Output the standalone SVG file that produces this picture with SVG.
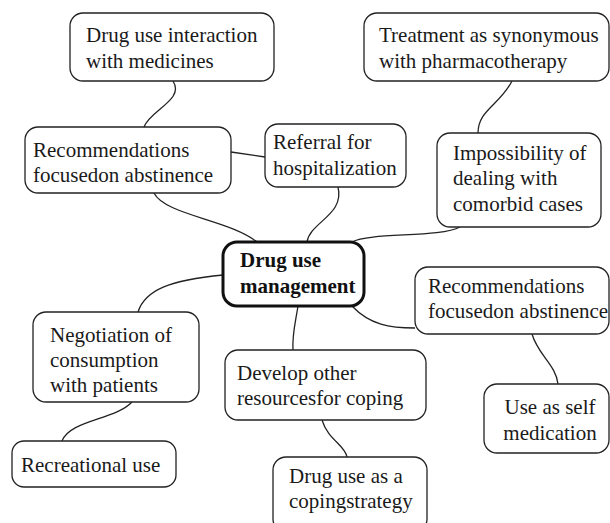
<svg xmlns="http://www.w3.org/2000/svg" width="610" height="523" viewBox="0 0 610 523">
<style>
.box{fill:#fff;stroke:#222;stroke-width:1.3}
.main{fill:#fff;stroke:#111;stroke-width:3}
.c{fill:none;stroke:#222;stroke-width:1.3}
</style>
<rect width="610" height="523" fill="#fff"/>
<g id="connectors">
<path class="c" d="M173,81 C185,100 150,110 144,127"/>
<path class="c" d="M154,193 C165,215 230,220 257,242"/>
<path class="c" d="M231,152 L265,157"/>
<path class="c" d="M338,187 C345,215 310,222 307,242"/>
<path class="c" d="M512,81 C500,105 478,110 478,133"/>
<path class="c" d="M460,227 C440,238 370,232 352,242"/>
<path class="c" d="M223,275 C170,280 145,290 138,312"/>
<path class="c" d="M298,306 C295,325 292,335 293,350"/>
<path class="c" d="M352,306 C370,325 390,328 415,328"/>
<path class="c" d="M532,334 C538,355 556,365 558,384"/>
<path class="c" d="M322,420 C328,440 345,445 347,457"/>
<path class="c" d="M132,402 C115,420 70,420 62,441"/>
</g>
<g font-family="Liberation Serif, Times New Roman, serif" font-size="21" fill="#1a1a1a">
<g id="n-interaction">
<rect class="box" x="70" y="13" width="204" height="68" rx="13"/>
<text x="86" y="42">Drug use interaction</text>
<text x="86" y="68">with medicines</text>
</g>
<g id="n-rec-left">
<rect class="box" x="25" y="127" width="206" height="66" rx="13"/>
<text x="33" y="157">Recommendations</text>
<text x="33" y="182">focusedon abstinence</text>
</g>
<g id="n-referral">
<rect class="box" x="265" y="124" width="141" height="63" rx="13"/>
<text x="273" y="149">Referral for</text>
<text x="273" y="175">hospitalization</text>
</g>
<g id="n-treatment">
<rect class="box" x="364" y="13" width="245" height="68" rx="13"/>
<text x="379" y="42">Treatment as synonymous</text>
<text x="379" y="68">with pharmacotherapy</text>
</g>
<g id="n-impossibility">
<rect class="box" x="437" y="133" width="164" height="94" rx="13"/>
<text x="453" y="160">Impossibility of</text>
<text x="453" y="185">dealing with</text>
<text x="453" y="211">comorbid cases</text>
</g>
<g id="n-center">
<rect class="main" x="223" y="242" width="141" height="64" rx="14"/>
<text x="240" y="267" font-weight="bold" fill="#111">Drug use</text>
<text x="240" y="293" font-weight="bold" fill="#111">management</text>
</g>
<g id="n-rec-right">
<rect class="box" x="415" y="267" width="194" height="67" rx="13"/>
<text x="428" y="293">Recommendations</text>
<text x="428" y="318">focusedon abstinence</text>
</g>
<g id="n-self">
<rect class="box" x="484" y="384" width="125" height="69" rx="13"/>
<text x="550" y="414" text-anchor="middle">Use as self</text>
<text x="550" y="440" text-anchor="middle">medication</text>
</g>
<g id="n-develop">
<rect class="box" x="225" y="350" width="201" height="70" rx="13"/>
<text x="237" y="380">Develop other</text>
<text x="237" y="405">resourcesfor coping</text>
</g>
<g id="n-coping">
<rect class="box" x="273" y="457" width="154" height="75" rx="13"/>
<text x="289" y="483">Drug use as a</text>
<text x="289" y="508">copingstrategy</text>
</g>
<g id="n-negotiation">
<rect class="box" x="33" y="312" width="166" height="90" rx="13"/>
<text x="50" y="342">Negotiation of</text>
<text x="50" y="367">consumption</text>
<text x="50" y="392">with patients</text>
</g>
<g id="n-recreational">
<rect class="box" x="12" y="441" width="164" height="46" rx="12"/>
<text x="21" y="472">Recreational use</text>
</g>
</g>
</svg>
